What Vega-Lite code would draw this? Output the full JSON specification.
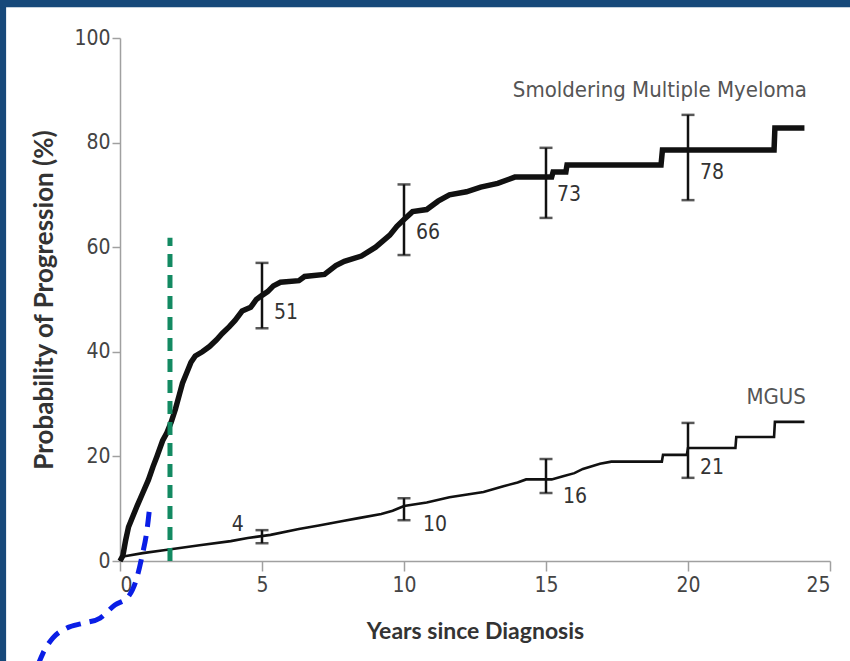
{
  "$schema": "https://vega.github.io/schema/vega-lite/v6.json",
  "width": 710,
  "height": 523,
  "autosize": {"type": "none"},
  "padding": {"left": 120, "top": 38, "right": 20, "bottom": 100},
  "background": "white",
  "datasets": {
    "smm": [
      {"yr": 0, "p": 0}, {"yr": 0.1, "p": 1}, {"yr": 0.2, "p": 4}, {"yr": 0.3, "p": 6.5},
      {"yr": 0.45, "p": 8.5}, {"yr": 0.6, "p": 10.5}, {"yr": 0.8, "p": 13}, {"yr": 1.0, "p": 15.5},
      {"yr": 1.16, "p": 18}, {"yr": 1.3, "p": 20}, {"yr": 1.5, "p": 23}, {"yr": 1.65, "p": 24.5},
      {"yr": 1.8, "p": 26.5}, {"yr": 1.95, "p": 29}, {"yr": 2.1, "p": 32}, {"yr": 2.2, "p": 34},
      {"yr": 2.35, "p": 36}, {"yr": 2.5, "p": 38}, {"yr": 2.65, "p": 39.2}, {"yr": 2.9, "p": 40},
      {"yr": 3.15, "p": 41}, {"yr": 3.4, "p": 42.3}, {"yr": 3.6, "p": 43.5}, {"yr": 3.85, "p": 44.8},
      {"yr": 4.05, "p": 46}, {"yr": 4.3, "p": 47.8}, {"yr": 4.6, "p": 48.5}, {"yr": 4.8, "p": 50},
      {"yr": 5.0, "p": 50.8}, {"yr": 5.2, "p": 51.5}, {"yr": 5.4, "p": 52.6}, {"yr": 5.65, "p": 53.3},
      {"yr": 6.3, "p": 53.6}, {"yr": 6.5, "p": 54.4}, {"yr": 7.2, "p": 54.8}, {"yr": 7.6, "p": 56.5},
      {"yr": 7.9, "p": 57.3}, {"yr": 8.5, "p": 58.3}, {"yr": 9.0, "p": 60}, {"yr": 9.5, "p": 62.3},
      {"yr": 9.75, "p": 64}, {"yr": 10.0, "p": 65.3}, {"yr": 10.3, "p": 66.8}, {"yr": 10.8, "p": 67.2},
      {"yr": 11.2, "p": 68.8}, {"yr": 11.6, "p": 70}, {"yr": 12.2, "p": 70.6}, {"yr": 12.7, "p": 71.5},
      {"yr": 13.3, "p": 72.2}, {"yr": 13.9, "p": 73.4}, {"yr": 15.2, "p": 73.4}, {"yr": 15.25, "p": 74.4},
      {"yr": 15.7, "p": 74.4}, {"yr": 15.74, "p": 75.7}, {"yr": 19.05, "p": 75.7}, {"yr": 19.1, "p": 78.6},
      {"yr": 23.03, "p": 78.6}, {"yr": 23.06, "p": 82.8}, {"yr": 24.1, "p": 82.8}
    ],
    "mgus": [
      {"yr": 0, "p": 0}, {"yr": 0.05, "p": 0.8}, {"yr": 0.8, "p": 1.5}, {"yr": 1.6, "p": 2.1},
      {"yr": 2.8, "p": 3.0}, {"yr": 3.9, "p": 3.8}, {"yr": 4.5, "p": 4.4}, {"yr": 5.3, "p": 5.0},
      {"yr": 6.3, "p": 6.1}, {"yr": 7.0, "p": 6.8}, {"yr": 7.8, "p": 7.6}, {"yr": 8.4, "p": 8.2},
      {"yr": 9.2, "p": 9.0}, {"yr": 9.6, "p": 9.6}, {"yr": 10.0, "p": 10.5}, {"yr": 10.8, "p": 11.2},
      {"yr": 11.6, "p": 12.2}, {"yr": 12.8, "p": 13.2}, {"yr": 13.5, "p": 14.3}, {"yr": 14.0, "p": 15.0},
      {"yr": 14.3, "p": 15.6}, {"yr": 15.2, "p": 15.6}, {"yr": 15.6, "p": 16.2}, {"yr": 16.0, "p": 16.8},
      {"yr": 16.3, "p": 17.6}, {"yr": 16.9, "p": 18.6}, {"yr": 17.3, "p": 19.0}, {"yr": 19.08, "p": 19.0},
      {"yr": 19.12, "p": 20.3}, {"yr": 19.96, "p": 20.3}, {"yr": 20.0, "p": 21.6}, {"yr": 21.67, "p": 21.6},
      {"yr": 21.7, "p": 23.7}, {"yr": 23.03, "p": 23.7}, {"yr": 23.06, "p": 26.6}, {"yr": 24.1, "p": 26.6}
    ],
    "bars": [
      {"yr": 5, "lo": 44.5, "hi": 57}, {"yr": 10, "lo": 58.5, "hi": 72},
      {"yr": 15, "lo": 65.6, "hi": 79}, {"yr": 20, "lo": 69, "hi": 85.3},
      {"yr": 5, "lo": 3.4, "hi": 5.9}, {"yr": 10, "lo": 7.8, "hi": 12},
      {"yr": 15, "lo": 13, "hi": 19.5}, {"yr": 20, "lo": 15.9, "hi": 26.4}
    ],
    "nums": [
      {"yr": 5.42, "p": 47.4, "t": "51"}, {"yr": 10.42, "p": 62.7, "t": "66"},
      {"yr": 15.39, "p": 70, "t": "73"}, {"yr": 20.42, "p": 74.2, "t": "78"},
      {"yr": 10.67, "p": 6.9, "t": "10"}, {"yr": 15.6, "p": 12.2, "t": "16"},
      {"yr": 20.42, "p": 17.8, "t": "21"}
    ],
    "blue": [
      {"yr": -2.89, "p": -19.9}, {"yr": -2.71, "p": -17.6}, {"yr": -2.36, "p": -14.7},
      {"yr": -1.87, "p": -12.8}, {"yr": -1.3, "p": -11.9}, {"yr": -0.7, "p": -10.9},
      {"yr": -0.18, "p": -8.4}, {"yr": 0.28, "p": -6.9}, {"yr": 0.6, "p": -3.1},
      {"yr": 0.77, "p": 0.8}, {"yr": 0.95, "p": 5.9}, {"yr": 1.06, "p": 11.1}
    ]
  },
  "layer": [
    {
      "data": {"name": "smm"},
      "mark": {"type": "line", "color": "#111", "strokeWidth": 5.5, "strokeJoin": "miter"},
      "encoding": {
        "x": {"field": "yr", "type": "quantitative",
              "scale": {"domain": [0, 25], "nice": false},
              "axis": {"values": [0, 5, 10, 15, 20, 25], "title": "Years since Diagnosis",
                       "tickSize": 10, "labelPadding": 3, "titlePadding": 25, "titleFontSize": 23}},
        "y": {"field": "p", "type": "quantitative",
              "scale": {"domain": [0, 100], "nice": false},
              "axis": {"values": [0, 20, 40, 60, 80, 100], "title": "Probability of Progression (%)",
                       "tickSize": 8, "labelPadding": 2, "titlePadding": 16, "titleFontSize": 26}}
      }
    },
    {
      "data": {"name": "mgus"},
      "mark": {"type": "line", "color": "#111", "strokeWidth": 2.6, "strokeJoin": "miter"},
      "encoding": {
        "x": {"field": "yr", "type": "quantitative"},
        "y": {"field": "p", "type": "quantitative"}
      }
    },
    {
      "data": {"name": "bars"},
      "mark": {"type": "rule", "color": "#111", "strokeWidth": 2.5},
      "encoding": {
        "x": {"field": "yr", "type": "quantitative"},
        "y": {"field": "lo", "type": "quantitative"},
        "y2": {"field": "hi"}
      }
    },
    {
      "data": {"name": "bars"},
      "mark": {"type": "tick", "orient": "horizontal", "color": "#111", "size": 13, "thickness": 2.5},
      "encoding": {
        "x": {"field": "yr", "type": "quantitative"},
        "y": {"field": "lo", "type": "quantitative"}
      }
    },
    {
      "data": {"name": "bars"},
      "mark": {"type": "tick", "orient": "horizontal", "color": "#111", "size": 13, "thickness": 2.5},
      "encoding": {
        "x": {"field": "yr", "type": "quantitative"},
        "y": {"field": "hi", "type": "quantitative"}
      }
    },
    {
      "data": {"name": "nums"},
      "mark": {"type": "text", "align": "left", "baseline": "middle", "font": "Liberation Sans Narrow, DejaVu Sans Condensed, sans-serif", "fontSize": 21, "color": "#333"},
      "encoding": {
        "x": {"field": "yr", "type": "quantitative"},
        "y": {"field": "p", "type": "quantitative"},
        "text": {"field": "t"}
      }
    },
    {
      "data": {"values": [{"yr": 4.15, "p": 6.9, "t": "4"}]},
      "mark": {"type": "text", "align": "center", "baseline": "middle", "font": "Liberation Sans Narrow, DejaVu Sans Condensed, sans-serif", "fontSize": 21, "color": "#333"},
      "encoding": {
        "x": {"field": "yr", "type": "quantitative"},
        "y": {"field": "p", "type": "quantitative"},
        "text": {"field": "t"}
      }
    },
    {
      "data": {"values": [{"yr": 24.19, "p": 90.1, "t": "Smoldering Multiple Myeloma"}, {"yr": 24.15, "p": 31.4, "t": "MGUS"}]},
      "mark": {"type": "text", "align": "right", "baseline": "middle", "font": "Liberation Sans Narrow, DejaVu Sans Condensed, sans-serif", "fontSize": 22, "color": "#555"},
      "encoding": {
        "x": {"field": "yr", "type": "quantitative"},
        "y": {"field": "p", "type": "quantitative"},
        "text": {"field": "t"}
      }
    },
    {
      "data": {"values": [{"yr": 1.76, "p": 0, "p2": 61.8}]},
      "mark": {"type": "rule", "color": "#138a62", "strokeWidth": 5, "strokeDash": [13, 8]},
      "encoding": {
        "x": {"field": "yr", "type": "quantitative"},
        "y": {"field": "p", "type": "quantitative"},
        "y2": {"field": "p2"}
      }
    },
    {
      "data": {"name": "blue"},
      "mark": {"type": "line", "interpolate": "monotone", "color": "#0a1ee6", "strokeWidth": 5, "strokeDash": [15, 9], "clip": false},
      "encoding": {
        "x": {"field": "yr", "type": "quantitative"},
        "y": {"field": "p", "type": "quantitative"}
      }
    },
    {
      "data": {"values": [{}]},
      "mark": {"type": "rect", "color": "#17497a", "clip": false},
      "encoding": {
        "x": {"datum": -5},
        "x2": {"datum": -4.01},
        "y": {"datum": -30},
        "y2": {"datum": 115}
      }
    },
    {
      "data": {"values": [{}]},
      "mark": {"type": "rect", "color": "#17497a", "clip": false},
      "encoding": {
        "x": {"datum": -5},
        "x2": {"datum": 27},
        "y": {"datum": 105.9},
        "y2": {"datum": 115}
      }
    }
  ],
  "config": {
    "view": {"stroke": null},
    "axis": {
      "grid": false,
      "domainColor": "#a0a0a0",
      "domainWidth": 1.5,
      "tickColor": "#a0a0a0",
      "tickWidth": 1.5,
      "labelColor": "#444",
      "labelFont": "Liberation Sans Narrow, DejaVu Sans Condensed, sans-serif",
      "labelFontSize": 21,
      "titleFont": "Lato, sans-serif",
      "titleFontSize": 21,
      "titleFontWeight": "bold",
      "titleColor": "#333"
    }
  }
}
